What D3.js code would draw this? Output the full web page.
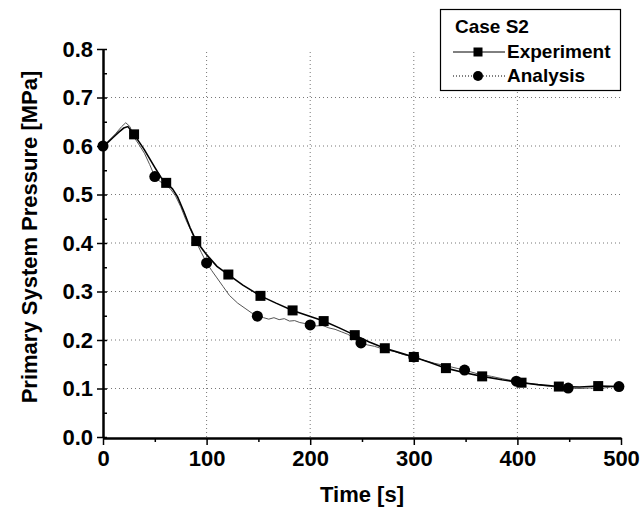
<!DOCTYPE html>
<html>
<head>
<meta charset="utf-8">
<script src="https://cdn.jsdelivr.net/npm/d3@7"></script>
<style>
  body { margin: 0; background: #fff; }
  svg { display: block; font-family: "Liberation Sans", Arial, sans-serif; }
</style>
</head>
<body>
<div id="chart"></div>
<script>
// Case S2 — primary system pressure vs time

const xTicks = [0, 100, 200, 300, 400, 500];
const xMinor = [50, 150, 250, 350, 450];
const yTicks = [0, 0.1, 0.2, 0.3, 0.4, 0.5, 0.6, 0.7, 0.8];
const yMinor = [0.05, 0.15, 0.25, 0.35, 0.45, 0.55, 0.65, 0.75];
const xGrid = [100, 200, 300, 400];
const yGrid = [0.1, 0.2, 0.3, 0.4, 0.5, 0.6, 0.7];

// experiment line
const expTime = [0, 5, 10, 15, 20, 24, 30, 40, 50, 56, 61, 67, 72, 78, 84, 90, 100, 110, 121, 135,
  152, 167, 183, 198, 213, 228, 243, 257, 272, 286, 300, 315, 331, 348, 366, 385, 404, 420, 440, 460, 478, 500];
const expPressure = [0.600, 0.608, 0.618, 0.628, 0.637, 0.640, 0.624, 0.592, 0.556, 0.535, 0.524, 0.512, 0.495, 0.465, 0.432, 0.404, 0.376, 0.352, 0.335, 0.313,
  0.291, 0.276, 0.261, 0.250, 0.239, 0.225, 0.210, 0.196, 0.183, 0.174, 0.165, 0.154, 0.142, 0.133, 0.125, 0.118, 0.112, 0.108, 0.104, 0.103, 0.105, 0.104];
const expMarkTime = [30, 61, 90, 121, 152, 183, 213, 243, 272, 300, 331, 366, 404, 440, 478];
const expMarkPressure = [0.624, 0.524, 0.404, 0.335, 0.291, 0.261, 0.239, 0.210, 0.183, 0.165, 0.142, 0.125, 0.112, 0.104, 0.105];

// analysis line
const anaTime = [0, 6, 12, 18, 22, 26, 30, 35, 40, 45, 50, 55, 60, 65, 70, 75, 80, 85, 90, 95, 100, 105, 110, 116, 122, 130, 138, 144, 149,
  155, 160, 165, 170, 175, 180, 185, 190, 195, 200, 206, 212, 218, 224, 230, 236, 242, 249, 255, 262, 268, 275, 282, 290, 300,
  310, 320, 335, 349, 362, 375, 388, 399, 412, 425, 438, 449, 460, 470, 480, 490, 498];
const anaPressure = [0.600, 0.612, 0.625, 0.640, 0.648, 0.640, 0.618, 0.602, 0.585, 0.562, 0.537, 0.527, 0.519, 0.512, 0.497, 0.475, 0.448, 0.425, 0.402, 0.380, 0.359, 0.343, 0.328, 0.310, 0.292, 0.276, 0.264, 0.255, 0.249,
  0.246, 0.243, 0.246, 0.242, 0.244, 0.239, 0.240, 0.236, 0.234, 0.231, 0.229, 0.230, 0.225, 0.222, 0.217, 0.212, 0.205, 0.194, 0.190, 0.187, 0.183, 0.179, 0.176, 0.170, 0.165,
  0.158, 0.152, 0.145, 0.138, 0.130, 0.125, 0.119, 0.115, 0.110, 0.106, 0.103, 0.101, 0.100, 0.101, 0.100, 0.103, 0.104];
const anaMarkTime = [0, 50, 100, 149, 200, 249, 300, 349, 399, 449, 498];
const anaMarkPressure = [0.600, 0.537, 0.359, 0.249, 0.231, 0.194, 0.165, 0.138, 0.115, 0.101, 0.104];

const W = 643, H = 513;
const FONT = '"Liberation Sans", Arial, sans-serif';

const svg = d3.select('#chart').append('svg')
  .attr('width', W).attr('height', H);

const x = d3.scaleLinear().domain([0, 500]).range([103, 621]);
const y = d3.scaleLinear().domain([0, 0.8]).range([437, 49]);

// dotted grid
svg.append('g').selectAll('line').data(xGrid).join('line')
  .attr('x1', d => x(d)).attr('x2', d => x(d))
  .attr('y1', y(0)).attr('y2', y(0.8))
  .attr('stroke', '#777').attr('stroke-width', 1).attr('stroke-dasharray', '1,3');
svg.append('g').selectAll('line').data(yGrid).join('line')
  .attr('x1', x(0)).attr('x2', x(500))
  .attr('y1', d => y(d)).attr('y2', d => y(d))
  .attr('stroke', '#777').attr('stroke-width', 1).attr('stroke-dasharray', '1,3');

// x axis
const xAxisG = svg.append('g').attr('transform', `translate(0, ${y(0) + 1})`);
xAxisG.call(d3.axisBottom(x).tickValues(xTicks).tickFormat(d3.format('d')).tickSizeInner(7).tickSizeOuter(0).tickPadding(5));
xAxisG.append('g').call(d3.axisBottom(x).tickValues(xMinor).tickFormat('').tickSize(4))
  .select('.domain').remove();

// y axis
const yAxisG = svg.append('g').attr('transform', `translate(${x(0)}, 0)`);
yAxisG.call(d3.axisLeft(y).tickValues(yTicks).tickFormat(d3.format('.1f')).tickSizeInner(6).tickSizeOuter(0).tickPadding(4));
yAxisG.append('g').call(d3.axisLeft(y).tickValues(yTicks.concat(yMinor)).tickFormat('').tickSize(-4))
  .select('.domain').remove();

svg.selectAll('.domain').attr('stroke', '#000').attr('stroke-width', 2.5);
svg.selectAll('.tick line').attr('stroke', '#000').attr('stroke-width', 1.5);
svg.selectAll('.tick text')
  .attr('font-family', FONT).attr('font-size', 22).attr('font-weight', 'bold').attr('fill', '#000');

// axis titles
svg.append('text')
  .attr('x', (x(0) + x(500)) / 2).attr('y', 502)
  .attr('text-anchor', 'middle')
  .attr('font-family', FONT).attr('font-size', 22).attr('font-weight', 'bold')
  .text('Time [s]');
svg.append('text')
  .attr('transform', `translate(37, ${(y(0) + y(0.8)) / 2 - 6}) rotate(-90)`)
  .attr('text-anchor', 'middle')
  .attr('font-family', FONT).attr('font-size', 22).attr('font-weight', 'bold')
  .text('Primary System Pressure [MPa]');

// lines
const line = d3.line().x(d => x(d[0])).y(d => y(d[1]));
svg.append('path')
  .datum(d3.zip(anaTime, anaPressure))
  .attr('d', line)
  .attr('fill', 'none').attr('stroke', '#555').attr('stroke-width', 1);
svg.append('path')
  .datum(d3.zip(expTime, expPressure))
  .attr('d', line)
  .attr('fill', 'none').attr('stroke', '#000').attr('stroke-width', 1.6);

// markers
const SQ = 10;
svg.append('g').selectAll('rect').data(d3.zip(expMarkTime, expMarkPressure)).join('rect')
  .attr('x', d => x(d[0]) - SQ / 2).attr('y', d => y(d[1]) - SQ / 2)
  .attr('width', SQ).attr('height', SQ).attr('fill', '#000');
svg.append('g').selectAll('circle').data(d3.zip(anaMarkTime, anaMarkPressure)).join('circle')
  .attr('cx', d => x(d[0])).attr('cy', d => y(d[1]))
  .attr('r', 5.5).attr('fill', '#000');

// legend
const lg = svg.append('g');
lg.append('rect')
  .attr('x', 440.5).attr('y', 9.5).attr('width', 180).attr('height', 81)
  .attr('fill', '#fff').attr('stroke', '#000').attr('stroke-width', 1.2);
lg.append('text').attr('x', 455).attr('y', 33)
  .attr('font-family', FONT).attr('font-size', 19).attr('font-weight', 'bold')
  .text('Case S2');
lg.append('line').attr('x1', 453).attr('x2', 505).attr('y1', 52).attr('y2', 52)
  .attr('stroke', '#000').attr('stroke-width', 1);
lg.append('rect').attr('x', 478 - 4.5).attr('y', 52 - 4.5).attr('width', 9).attr('height', 9).attr('fill', '#000');
lg.append('text').attr('x', 507).attr('y', 58)
  .attr('font-family', FONT).attr('font-size', 19).attr('font-weight', 'bold')
  .text('Experiment');
lg.append('line').attr('x1', 453).attr('x2', 505).attr('y1', 76).attr('y2', 76)
  .attr('stroke', '#000').attr('stroke-width', 1).attr('stroke-dasharray', '1,2');
lg.append('circle').attr('cx', 478).attr('cy', 76).attr('r', 5).attr('fill', '#000');
lg.append('text').attr('x', 507).attr('y', 82)
  .attr('font-family', FONT).attr('font-size', 19).attr('font-weight', 'bold')
  .text('Analysis');
</script>
</body>
</html>
